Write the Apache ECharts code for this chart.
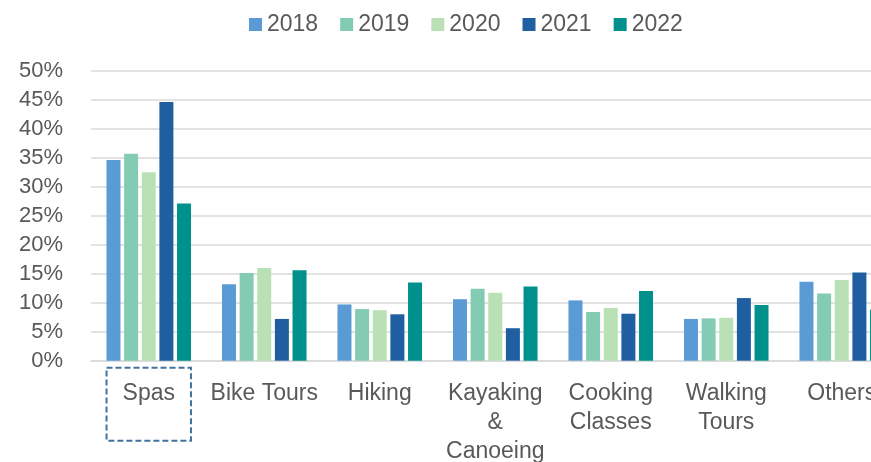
<!DOCTYPE html>
<html>
<head>
<meta charset="utf-8">
<script src="https://cdn.jsdelivr.net/npm/echarts@6/dist/echarts.min.js"></script>
<style>
  html, body { margin: 0; padding: 0; background: #fff; }
  #chart { width: 871px; height: 462px; }
</style>
</head>
<body>
<div id="chart"></div>
<script>
// 数据
const categories = ['Spas', 'Bike Tours', 'Hiking', 'Kayaking\n&\nCanoeing', 'Cooking\nClasses', 'Walking\nTours', 'Others'];
const years = ['2018', '2019', '2020', '2021', '2022'];
const v2018 = [34.6, 13.2, 9.7, 10.6, 10.4, 7.2, 13.6];
const v2019 = [35.7, 15.1, 8.9, 12.4, 8.4, 7.3, 11.6];
const v2020 = [32.5, 16.0, 8.7, 11.7, 9.1, 7.4, 13.9];
const v2021 = [44.6, 7.2, 8.0, 5.6, 8.1, 10.8, 15.2];
const v2022 = [27.1, 15.6, 13.5, 12.8, 12.0, 9.6, 8.8];
const yTicks = { min: 0, max: 50, step: 5 };

const seriesValues = [v2018, v2019, v2020, v2021, v2022];
const colors = ['#5B9BD5', '#84CBB4', '#BAE1B6', '#1F5FA1', '#00918D'];
const fontFamily = '"Liberation Sans", Arial, sans-serif';
const textColor = '#595959';

// Spas 的虚线框
const spasBox = {
    borderColor: '#41719C',
    borderWidth: 2,
    borderType: [6, 3],
    padding: [11, 16, 33, 16]
};

const chart = echarts.init(document.getElementById('chart'));
const option = {
    animation: false,
    color: colors,
    textStyle: { fontFamily: fontFamily },
    legend: {
        left: 244,
        top: 8,
        itemWidth: 13,
        itemHeight: 13,
        itemGap: 22,
        icon: 'rect',
        textStyle: { fontSize: 23, color: textColor, fontFamily: fontFamily },
        data: years
    },
    grid: {
        left: 91,
        top: 70.7,
        width: 808.5,
        bottom: 101.3,
        outerBoundsMode: 'none'
    },
    xAxis: {
        type: 'category',
        data: categories.map((c, i) => i === 0 ? { value: c, textStyle: spasBox } : c),
        axisLine: { show: true, lineStyle: { color: '#D9D9D9', width: 1.5 } },
        axisTick: { show: false },
        axisLabel: {
            interval: 0,
            fontSize: 23,
            lineHeight: 29,
            color: textColor,
            margin: 7,
            padding: [11, 0, 0, 0]
        }
    },
    yAxis: {
        type: 'value',
        min: yTicks.min,
        max: yTicks.max,
        interval: yTicks.step,
        axisLine: { show: false },
        axisTick: { show: false },
        axisLabel: {
            formatter: '{value}%',
            fontSize: 22,
            color: textColor,
            margin: 28
        },
        splitLine: { lineStyle: { color: '#D9D9D9', width: 1.5 } }
    },
    series: years.map((y, i) => ({
        name: y,
        type: 'bar',
        barWidth: 14,
        barGap: '26%',
        data: seriesValues[i]
    }))
};
chart.setOption(option);
</script>
</body>
</html>
